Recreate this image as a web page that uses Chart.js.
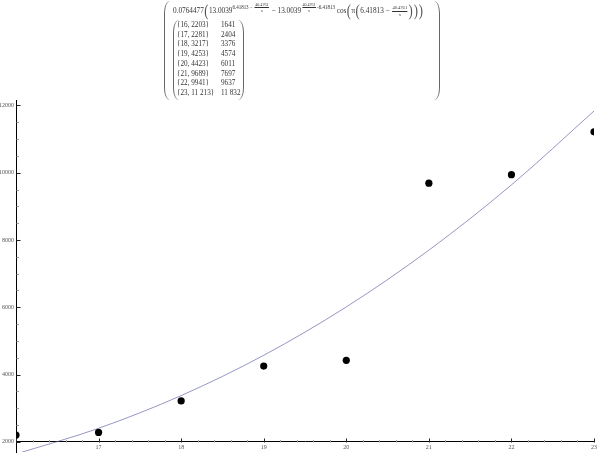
<!DOCTYPE html>
<html><head><meta charset="utf-8">
<script src="https://cdn.jsdelivr.net/npm/chart.js@4/dist/chart.umd.min.js"></script>
<style>
html,body{margin:0;padding:0;background:#fff;width:600px;height:462px;overflow:hidden;}
#wrap{position:absolute;left:0;top:0;width:600px;height:462px;}
.t{position:absolute;font-family:"Liberation Serif","DejaVu Serif",serif;color:#333;white-space:nowrap;}
.lp{position:absolute;border-left:1px solid #666;border-radius:6px 0 0 6px/12px 0 0 12px;width:6px;}
.rp{position:absolute;border-right:1px solid #666;border-radius:0 6px 6px 0/0 12px 12px 0;width:6px;}
#formula{left:173px;top:3px;font-size:8px;line-height:16px;display:flex;align-items:center;transform:scaleX(0.905);transform-origin:0 0;}
#formula .sp{display:inline-flex;align-items:center;font-size:5.5px;position:relative;top:-4px;}
#formula .fr{display:inline-flex;flex-direction:column;align-items:center;font-size:4.5px;line-height:5px;margin:0 1px;}
#formula .fr span:first-child{border-bottom:0.6px solid #333;padding:0 0.5px;}
#formula .bp{font-size:14px;line-height:16px;color:#555;transform:scaleY(1.15);display:inline-block;margin:0 0.5px;}
#formula .frm{display:inline-flex;flex-direction:column;align-items:center;font-size:5px;line-height:5.5px;margin:0 1px;}
#formula .frm span:first-child{border-bottom:0.6px solid #333;}
.row{position:absolute;font-size:7.2px;line-height:8px;}
</style>
</head><body>
<div id="wrap"><canvas id="c" width="600" height="462"></canvas></div>

<div class="lp" style="left:164px;top:1px;height:99px;"></div>
<div class="rp" style="left:433px;top:1px;height:99px;"></div>
<div class="t" id="formula">
  <span>0.0764477</span><span class="bp">(</span><span>13.0039</span><span class="sp">6.41813 −&nbsp;<span class="fr"><span>40.4761</span><span>x</span></span></span><span>&nbsp;− 13.0039</span><span class="sp"><span class="fr"><span>40.4761</span><span>x</span></span>-6.41813</span><span>&nbsp;cos</span><span class="bp">(</span><span>π</span><span class="bp">(</span><span>6.41813 −&nbsp;</span><span class="frm"><span>40.4761</span><span>x</span></span><span class="bp">)</span><span class="bp">)</span><span class="bp">)</span>
</div>

<div class="lp" style="left:173px;top:20px;height:80px;"></div>
<div class="rp" style="left:237px;top:20px;height:80px;"></div>
<div id="table"></div>

<script>
// ---- data ----
const xValues   = [16, 17, 18, 19, 20, 21, 22, 23];
const observed  = [2203, 2281, 3217, 4253, 4423, 9689, 9941, 11213];
const fitted    = [1641, 2404, 3376, 4574, 6011, 7697, 9637, 11832];
const fittedLabels = ['1641', '2404', '3376', '4574', '6011', '7697', '9637', '11 832'];
const observedLabels = ['2203', '2281', '3217', '4253', '4423', '9689', '9941', '11 213'];
const xTickValues = [16, 17, 18, 19, 20, 21, 22, 23];
const xTickLabels = ['', '17', '18', '19', '20', '21', '22', '23'];
const yTickValues = [2000, 4000, 6000, 8000, 10000, 12000];
const yTickLabels = ['2000', '4000', '6000', '8000', '10000', '12000'];

// ---- table of pairs (text) ----
const table = document.getElementById('table');
xValues.forEach((xv, i) => {
  const top = 21 + i * 9.7;
  const a = document.createElement('div');
  a.className = 't row'; a.style.left = '177px'; a.style.top = top + 'px';
  a.textContent = '{' + xv + ', ' + observedLabels[i] + '}';
  const b = document.createElement('div');
  b.className = 't row'; b.style.left = '221px'; b.style.top = top + 'px';
  b.textContent = fittedLabels[i];
  table.appendChild(a); table.appendChild(b);
});

// ---- inward ticks plugin ----
const innerTicks = {
  id: 'innerTicks',
  afterDraw(chart) {
    const ctx = chart.ctx, xs = chart.scales.x, ys = chart.scales.y;
    const ax = chart.chartArea.left + 0.5;
    const ay = Math.round(ys.getPixelForValue(2000)) + 0.5;
    ctx.save();
    ctx.lineWidth = 1;
    for (let v = 2000; v <= 12000; v += 500) {
      const major = v % 2000 === 0;
      const y = Math.round(ys.getPixelForValue(v)) + 0.5;
      ctx.strokeStyle = major ? '#222' : '#999';
      ctx.beginPath(); ctx.moveTo(ax, y); ctx.lineTo(ax + (major ? 4 : 2.5), y); ctx.stroke();
    }
    for (let k = 0; k <= 35; k++) {
      const v = 16 + k * 0.2;
      const major = k % 5 === 0;
      const x = Math.round(xs.getPixelForValue(v)) + 0.5;
      ctx.strokeStyle = major ? '#222' : '#999';
      ctx.beginPath(); ctx.moveTo(x, ay); ctx.lineTo(x, ay - (major ? 4 : 2.5)); ctx.stroke();
    }
    ctx.restore();
  }
};

const fontSpec = {family: '"Liberation Serif", "DejaVu Serif", serif', size: 6};

new Chart(document.getElementById('c'), {
  type: 'scatter',
  data: {
    datasets: [
      {
        label: 'fit',
        data: xValues.map((x, i) => ({x, y: fitted[i]})),
        showLine: true,
        borderColor: 'rgba(100,100,170,0.85)',
        borderWidth: 0.8,
        pointRadius: 0,
        cubicInterpolationMode: 'monotone',
        order: 2
      },
      {
        label: 'data',
        data: xValues.map((x, i) => ({x, y: observed[i]})),
        backgroundColor: '#000',
        borderColor: '#000',
        pointRadius: 3.6,
        pointBorderWidth: 0,
        order: 1
      }
    ]
  },
  options: {
    responsive: false,
    animation: false,
    events: [],
    layout: {padding: {top: 100, right: 6, bottom: 10, left: 0}},
    plugins: {legend: {display: false}, tooltip: {enabled: false}},
    scales: {
      x: {
        type: 'linear',
        position: {y: 2000},
        min: 16, max: 23,
        afterBuildTicks: (s) => { s.ticks = xTickValues.map(v => ({value: v})); },
        ticks: {
          callback: (v) => xTickLabels[xTickValues.indexOf(v)] ?? '',
          font: fontSpec, color: '#555', padding: 2, maxRotation: 0, autoSkip: false
        },
        grid: {display: false, drawTicks: false},
        border: {display: true, color: '#000', width: 1}
      },
      y: {
        type: 'linear',
        position: 'left',
        min: 1700, max: 12160,
        afterBuildTicks: (s) => { s.ticks = yTickValues.map(v => ({value: v})); },
        afterFit: (s) => { s.width = 16; },
        ticks: {
          callback: (v) => yTickLabels[yTickValues.indexOf(v)] ?? '',
          font: fontSpec, color: '#555', padding: 2, autoSkip: false
        },
        grid: {display: false, drawTicks: false},
        border: {display: true, color: '#000', width: 1}
      }
    }
  },
  plugins: [innerTicks]
});
</script>
</body></html>
